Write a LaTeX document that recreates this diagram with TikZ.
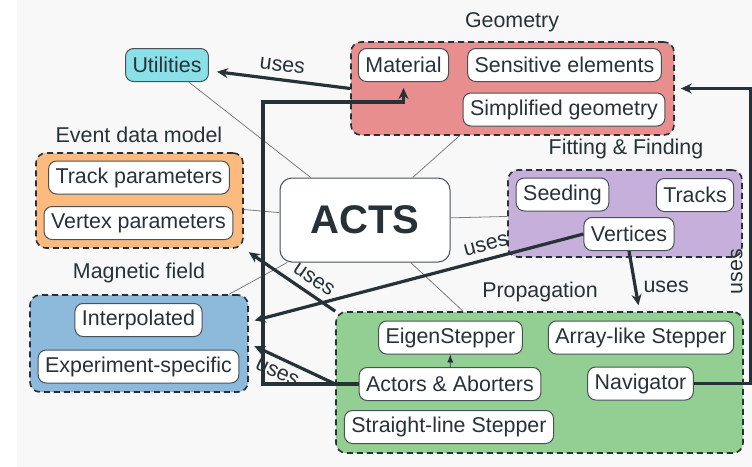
\documentclass[tikz,border=0pt]{standalone}
\usepackage{fontspec}
\setmainfont{Liberation Sans}
\usetikzlibrary{arrows.meta}
\definecolor{bgcol}{HTML}{F8F8F8}
\definecolor{ink}{HTML}{263238}
\definecolor{boxline}{HTML}{465257}
\definecolor{linkgray}{HTML}{7D7D7D}
\definecolor{utilcyan}{HTML}{8BE0E7}
\definecolor{geomred}{HTML}{E88E8E}
\definecolor{eventorange}{HTML}{FDBA7F}
\definecolor{fitpurple}{HTML}{C7AFDB}
\definecolor{magblue}{HTML}{8DBADA}
\definecolor{propgreen}{HTML}{93CE93}

\begin{document}
\begin{tikzpicture}[x=0.5pt,y=-0.5pt]
\tikzset{box/.style = {draw=boxline, line width=0.5pt, fill=white, rounded corners=4pt, inner xsep=3.5pt, inner ysep=0pt, minimum height=16.5pt, text=ink, font=\fontsize{10.7}{12}\selectfont},
  group/.style = {draw=ink, line width=0.8pt, dash pattern=on 3pt off 2pt, rounded corners=5pt, fill=#1},
  title/.style = {text=ink, font=\fontsize{10.7}{12}\selectfont},
  link/.style = {draw=linkgray, line width=0.4pt},
  uses/.style = {draw=ink, line width=1.6pt, -{Stealth[length=5.5pt,width=5pt]}, shorten >=3pt},
  usestext/.style = {text=ink, font=\fontsize{10.7}{12}\selectfont}}
\useasboundingbox (0,0) rectangle (752,467);
\fill[bgcol] (17,0) rectangle (752,467);
% groups
\node[group=geomred, minimum width=161.5pt, minimum height=46.5pt] (geometry) at (512.5,88.5) {};
\node[group=eventorange, minimum width=103.5pt, minimum height=47.5pt] (event) at (139.5,200.5) {};
\node[group=fitpurple, minimum width=117pt, minimum height=43.5pt] (fitting) at (625,213.5) {};
\node[group=magblue, minimum width=109pt, minimum height=48.5pt] (magnetic) at (139,343.5) {};
\node[group=propgreen, minimum width=203.5pt, minimum height=70.5pt] (propagation) at (539.5,382.5) {};
\node[title] (geomtitle) at (512,22) {Geometry};
\node[title] (eventtitle) at (139,135) {Event data model};
\node[title] (fittitle) at (626,149) {Fitting \& Finding};
\node[title] (magtitle) at (139,273) {Magnetic field};
\node[title] (proptitle) at (540,292) {Propagation};
% modules
\node[box, fill=utilcyan] (utilities) at (167,65) {Utilities};
\node[box] (material) at (403.5,65) {Material};
\node[box] (sensitive) at (564.5,65) {Sensitive elements};
\node[box] (simplified) at (564,109.5) {Simplified geometry};
\node[box] (trackpar) at (139,177.5) {Track parameters};
\node[box] (vertexpar) at (138.5,223) {Vertex parameters};
\node[box] (seeding) at (562.5,194.5) {Seeding};
\node[box] (tracks) at (695,195) {Tracks};
\node[box] (vertices) at (629,234) {Vertices};
\node[box] (interpolated) at (138.5,320) {Interpolated};
\node[box] (experiment) at (138.5,366.5) {Experiment-specific};
\node[box] (eigen) at (450.5,337.5) {EigenStepper};
\node[box] (arraylike) at (641,337.5) {Array-like Stepper};
\node[box] (actors) at (450,384) {Actors \& Aborters};
\node[box] (navigator) at (640.5,383.5) {Navigator};
\node[box] (straight) at (449,427) {Straight-line Stepper};
\node[box, rounded corners=6pt, minimum width=85pt, minimum height=42pt, font=\bfseries\fontsize{20}{24}\selectfont] (acts) at (365,220) {ACTS};
% thin links to the core
\draw[link] (acts) -- (utilities);
\draw[link] (acts) -- (geometry);
\draw[link] (acts) -- (event);
\draw[link] (acts) -- (fitting);
\draw[link] (acts) -- (magnetic);
\draw[link] (acts) -- (propagation);
% uses
\coordinate (leftbus) at (263,102);
\draw[uses] (geometry.west) -- ([xshift=1pt,yshift=-3pt]utilities.east) node[midway, above, sloped, usestext] {uses};
\draw[uses] (actors.west) -| (leftbus) -| (material.south);
\draw[uses] (navigator.east) -| ([xshift=38pt]geometry.east) node[pos=0.69, rotate=90, anchor=south, usestext] {uses} -- (geometry.east);
\draw[uses] (vertices.south) -- ([xshift=50pt]propagation.north) node[pos=0.6, right, usestext] {uses};
\draw[uses] (vertices.west) -- ([yshift=10.75pt]magnetic.east) node[pos=0.28, above, sloped, usestext] {uses};
\draw[uses] (actors.west -| propagation.west) -- (magnetic.east) node[pos=0.6, below, sloped, usestext] {uses};
\draw[uses] (propagation.north west) -- (event.south east) node[pos=0.32, above, sloped, usestext] {uses};
\draw[draw=ink, line width=0.4pt, -latex] (actors) -- (eigen);
\end{tikzpicture}
\end{document}
